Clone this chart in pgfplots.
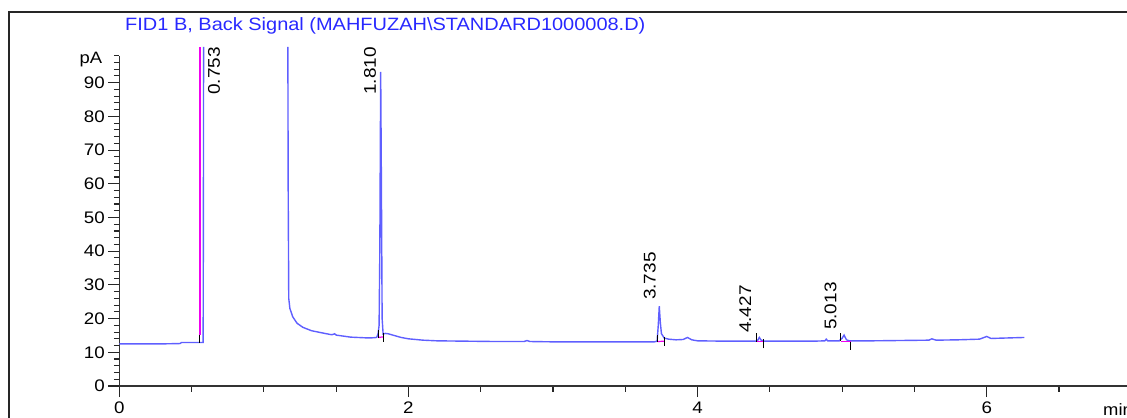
\documentclass[border=0pt]{standalone}
\usepackage{fontspec}
\setmainfont{Liberation Sans}[FakeStretch=1.12]
\usepackage{pgfplots}
\pgfplotsset{compat=1.18}
\definecolor{trace}{RGB}{95,95,255}
\definecolor{ttl}{RGB}{40,40,255}
\definecolor{integ}{RGB}{240,0,240}
\begin{document}
\begin{tikzpicture}[x=1bp,y=1bp]
\path[use as bounding box] (0,0) rectangle (1127,417);
\draw[line width=1.3bp, black!85] (9,-10) -- (9,405) -- (1140,405);
\node[anchor=base west, text=ttl, font=\fontsize{17.9}{20}\selectfont, inner sep=0] at (125,386.3) {FID1 B, Back Signal (MAHFUZAH\textbackslash STANDARD1000008.D)};
\node[anchor=west, font=\fontsize{16.5}{18}\selectfont, inner sep=0] at (1103,7) {min};
\begin{axis}[
  at={(119.3bp,31bp)}, anchor=south west,
  scale only axis, width=1041bp, height=330.3bp,
  xmin=0, xmax=7.2, ymin=0, ymax=98,
  axis x line*=bottom, axis y line*=left,
  axis line style={line width=1.3bp, black!80},
  clip=false,
  tick align=outside,
  major tick length=11bp, minor tick length=5.5bp,
  every tick/.style={black!85, line width=1.1bp},
  xtick={0,2,4,6}, minor xtick={0,0.5,...,7},
  ytick={0,10,...,90}, minor ytick={0,2,...,98},
  /pgf/number format/assume math mode=true,
  ticklabel style={font=\fontsize{16.8}{18}\selectfont},
  xticklabel style={yshift=-1bp},
]
% baseline and first (0.753) peak
\addplot[trace, line width=1.4bp] coordinates {
(0,12.5) (0.30,12.5) (0.42,12.6) (0.43,12.9) (0.558,12.9) (0.58,12.9) (0.582,60) (0.583,100.6)};
% solvent and rest of trace
\addplot[trace, line width=1.4bp] coordinates {
(1.166,100.6) (1.168,60) (1.172,26) (1.18,23) (1.20,20.5) (1.23,18.6) (1.27,17.4) (1.33,16.4) (1.41,15.7) (1.47,15.2) (1.49,15.5) (1.50,15.1) (1.55,14.8) (1.60,14.5) (1.65,14.4) (1.70,14.3) (1.75,14.3) (1.78,14.4) (1.79,15.5) (1.797,18) (1.802,40) (1.808,93.2) (1.813,60) (1.818,20) (1.825,15.4) (1.84,15.6) (1.86,15.5) (1.90,15.0) (1.95,14.4) (2.0,14.0) (2.1,13.6) (2.2,13.4) (2.4,13.3) (2.6,13.2) (2.8,13.2) (2.82,13.5) (2.84,13.2) (3.0,13.1) (3.2,13.1) (3.4,13.1) (3.6,13.1) (3.70,13.1) (3.72,13.3) (3.728,18) (3.735,23.7) (3.742,19) (3.75,15.5) (3.77,14.2) (3.80,13.9) (3.85,13.7) (3.90,13.8) (3.93,14.4) (3.96,13.7) (4.0,13.4) (4.2,13.3) (4.40,13.3) (4.415,13.5) (4.427,14.4) (4.44,13.6) (4.46,13.3) (4.6,13.3) (4.8,13.3) (4.88,13.4) (4.89,13.9) (4.90,13.4) (4.98,13.4) (5.00,14.2) (5.013,15.1) (5.03,13.7) (5.05,13.4) (5.2,13.4) (5.4,13.5) (5.6,13.6) (5.62,14.0) (5.65,13.6) (5.8,13.7) (5.95,13.9) (6.0,14.7) (6.03,14.1) (6.1,14.2) (6.26,14.4)};
% integration baselines (magenta)
\addplot[integ, line width=1.3bp] coordinates {(0.558,15.1) (0.558,100.6)};
\addplot[integ, line width=1.2bp] coordinates {(1.791,14.4) (1.83,14.6)};
\addplot[integ, line width=1.2bp] coordinates {(3.72,13.2) (3.774,13.3)};
\addplot[integ, line width=1.2bp] coordinates {(4.408,13.1) (4.459,13.1)};
\addplot[integ, line width=1.2bp] coordinates {(4.989,13.3) (5.058,13.3)};
% integration tick marks (black)
\addplot[black, line width=1bp] coordinates {(0.558,12.8) (0.558,15.1)};
\addplot[black, line width=1bp] coordinates {(1.791,14.2) (1.791,16.6)};
\addplot[black, line width=1bp] coordinates {(1.83,13.1) (1.83,15.7)};
\addplot[black, line width=1bp] coordinates {(3.72,13.1) (3.72,15.1)};
\addplot[black, line width=1bp] coordinates {(3.774,11.9) (3.774,14.5)};
\addplot[black, line width=1bp] coordinates {(4.408,13.1) (4.408,15.6)};
\addplot[black, line width=1bp] coordinates {(4.459,11.2) (4.459,13.9)};
\addplot[black, line width=1bp] coordinates {(4.989,13.4) (4.989,15.6)};
\addplot[black, line width=1bp] coordinates {(5.058,10.8) (5.058,13.1)};
% peak labels
\begin{scope}[every node/.style={rotate=90, anchor=west, inner sep=0, font=\fontsize{17}{18}\selectfont}]
\node at (axis cs:0.655,86.4) {0.753};
\node at (axis cs:1.734,86.4) {1.810};
\node at (axis cs:3.67,25.5) {3.735};
\node at (axis cs:4.33,15.7) {4.427};
\node at (axis cs:4.92,16.6) {5.013};
\end{scope}
\node[anchor=east, inner sep=0, font=\fontsize{16.5}{18}\selectfont] at (rel axis cs:0,1) [xshift=-17bp, yshift=-4bp] {pA};
\end{axis}
\end{tikzpicture}
\end{document}
